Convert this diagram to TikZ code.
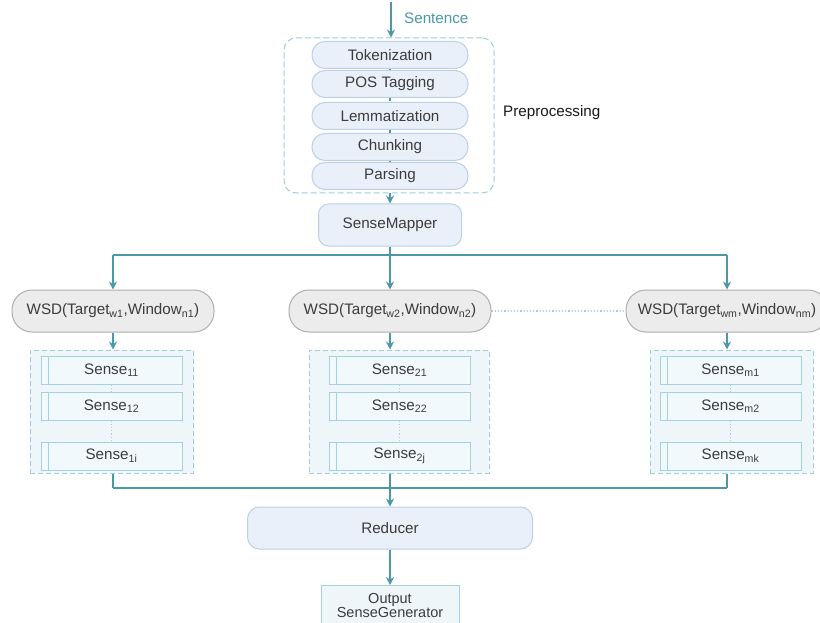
\documentclass[tikz,border=0pt]{standalone}
\usepackage{fontspec}
\setmainfont{Liberation Sans}
\usetikzlibrary{arrows.meta,positioning,calc}
\definecolor{teal1}{RGB}{74,152,168}
\definecolor{txt}{RGB}{60,60,60}
\definecolor{pfill}{RGB}{233,240,250}
\definecolor{pdraw}{RGB}{190,208,232}
\definecolor{gfill}{RGB}{238,246,250}
\definecolor{gdraw}{RGB}{160,205,220}
\definecolor{sfill}{RGB}{241,249,252}
\definecolor{sdraw}{RGB}{165,210,224}
\definecolor{wfill}{RGB}{236,236,236}
\definecolor{wdraw}{RGB}{175,175,175}
\tikzset{
  base/.style={font=\fontsize{15.2}{17}\selectfont, text=txt, inner sep=0pt, align=center},
  prestep/.style={base, draw=pdraw, fill=pfill, line width=1pt, rounded corners=13pt, minimum width=156pt, minimum height=27pt},
  bigbox/.style={base, draw=pdraw, fill=pfill, line width=1pt},
  wsd/.style={base, draw=wdraw, fill=wfill, line width=1pt, rounded corners=20pt, minimum width=202pt, minimum height=42pt},
  grp/.style={draw=gdraw, fill=gfill, dashed, line width=1pt, dash pattern=on 5pt off 3pt, inner sep=0pt, minimum width=163pt, minimum height=123pt},
  senseitem/.style={base, draw=sdraw, fill=sfill, line width=1pt, minimum width=141pt, minimum height=28pt,
     path picture={\draw[sdraw, line width=1pt] ([xshift=7pt]path picture bounding box.north west) -- ([xshift=7pt]path picture bounding box.south west);}},
  conn/.style={draw=teal1, line width=1.6pt},
  arr/.style={conn, -{Stealth[length=8pt,width=8pt]}},
  dotc/.style={draw=sdraw, line width=1.2pt, dotted},
  dashc/.style={draw=teal1, line width=1.4pt, dash pattern=on 3pt off 3pt},
}
\begin{document}
\begin{tikzpicture}[x=1pt,y=-1pt]
\clip (0,0) rectangle (820,623);
\fill[white] (0,0) rectangle (820,623);

% Sentence input
\coordinate (in) at (391,2);
\node[base, text=teal1, anchor=west] (sent) at (404,18) {Sentence};

% Preprocessing box
\node[draw=gdraw, dashed, dash pattern=on 6pt off 3pt, line width=1pt, rounded corners=12pt, minimum width=210pt, minimum height=155pt] (pre) at (389,115.5) {};
\node[prestep] (tok) at (390,55) {Tokenization};
\node[prestep] (pos) at (390,84) {POS Tagging};
\node[prestep] (lem) at (390,116) {Lemmatization};
\node[prestep] (chk) at (390,147) {Chunking};
\node[prestep] (par) at (390,176) {Parsing};
\node[base, text=black!90, anchor=west] (prelab) at (503,113) {Preprocessing};

\draw[arr] (in) -- (in |- pre.north);
\draw[dashc] (tok) -- (pos);
\draw[dashc] (pos) -- (lem);
\draw[dashc] (lem) -- (chk);
\draw[dashc] (chk) -- (par);

% SenseMapper
\node[bigbox, rounded corners=10pt, minimum width=143pt, minimum height=42pt] (sm) at (390,225) {SenseMapper};
\draw[arr] (pre.south -| sm.north) -- (sm.north);

% top bus
\coordinate (bt) at (390,255);
\coordinate (btl) at (113,255);
\coordinate (btr) at (727,255);
\draw[conn] (sm.south) -- (bt);
\draw[conn] (btl) -- (btr);

% WSD nodes
\node[wsd] (w1) at (113,311) {WSD(Target\textsubscript{w1},Window\textsubscript{n1})};
\node[wsd] (w2) at (390,311) {WSD(Target\textsubscript{w2},Window\textsubscript{n2})};
\node[wsd] (w3) at (727,311) {WSD(Target\textsubscript{wm},Window\textsubscript{nm})};
\draw[arr] (btl) -- (w1.north);
\draw[arr] (bt) -- (w2.north);
\draw[arr] (btr) -- (w3.north);
\draw[dotc] (w2.east) -- (w3.west);

% Sense groups
\node[grp] (g1) at (111.5,411.5) {};
\node[grp, minimum width=180pt] (g2) at (399,411.5) {};
\node[grp] (g3) at (731.5,411.5) {};
\draw[arr] (w1.south) -- (w1.south |- g1.north);
\draw[arr] (w2.south) -- (w2.south |- g2.north);
\draw[arr] (w3.south) -- (w3.south |- g3.north);

\node[senseitem] (s11) at (111.5,370) {Sense\textsubscript{11}};
\node[senseitem] (s12) at (111.5,406) {Sense\textsubscript{12}};
\node[senseitem] (s1i) at (111.5,456) {Sense\textsubscript{1i}};
\node[senseitem] (s21) at (399.5,370) {Sense\textsubscript{21}};
\node[senseitem] (s22) at (399.5,406) {Sense\textsubscript{22}};
\node[senseitem] (s2j) at (399.5,456) {Sense\textsubscript{2j}};
\node[senseitem] (s31) at (730.5,370) {Sense\textsubscript{m1}};
\node[senseitem] (s32) at (730.5,406) {Sense\textsubscript{m2}};
\node[senseitem] (s3k) at (730.5,456) {Sense\textsubscript{mk}};
\foreach \a/\b in {s11/s12,s12/s1i,s21/s22,s22/s2j,s31/s32,s32/s3k}
  \draw[dotc] (\a.south) -- (\b.north);

% bottom bus
\coordinate (bb) at (390,488);
\coordinate (bbl) at (113,488);
\coordinate (bbr) at (727,488);
\draw[conn] (g1.south -| bbl) -- (bbl);
\draw[conn] (g2.south -| bb) -- (bb);
\draw[conn] (g3.south -| bbr) -- (bbr);
\draw[conn] (bbl) -- (bbr);

% Reducer
\node[bigbox, rounded corners=12pt, minimum width=285pt, minimum height=42pt] (red) at (390,528) {Reducer};
\draw[arr] (bb) -- (red.north);

% Output
\node[base, font=\fontsize{14.5}{14}\selectfont, draw=sdraw, fill=gfill, line width=1pt, minimum width=138pt, minimum height=40pt, anchor=north] (out) at (390,585) {Output\\SenseGenerator};
\draw[arr] (red.south) -- (out.north);
\end{tikzpicture}
\end{document}
